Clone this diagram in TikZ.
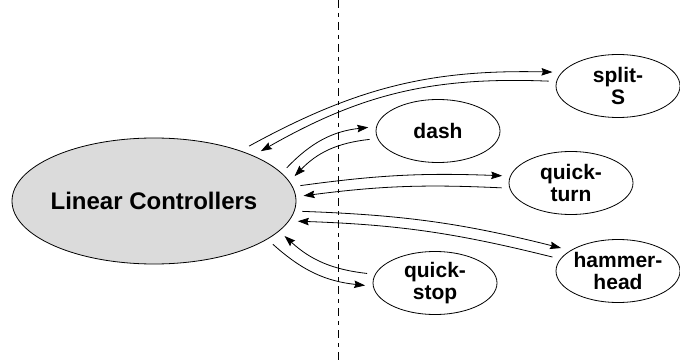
\documentclass[tikz,border=0pt]{standalone}
\usepackage{fontspec}
\setmainfont{Liberation Sans}
\usepackage{tikz}
\usetikzlibrary{shapes,arrows.meta}

\begin{document}
\begin{tikzpicture}[x=1pt,y=1pt,line width=0.8pt,>={Stealth[length=11pt,width=7.5pt,inset=1.5pt]},
		ctrl/.style={ellipse,draw,fill=black!14,minimum width=284pt,minimum height=126pt,inner xsep=-14pt,inner ysep=0pt,outer sep=8pt,font=\fontsize{24}{26}\selectfont\bfseries},
		man/.style={ellipse,draw,minimum width=124pt,minimum height=63pt,inner xsep=-10pt,inner ysep=0pt,outer sep=8pt,align=center,font=\fontsize{21}{22}\selectfont\bfseries}]
			\useasboundingbox (0,0) rectangle (680,362);

			\coordinate (top) at (338,362);
			\coordinate (bot) at (338,0);
			\draw[line width=0.8pt,dash pattern=on 8pt off 5pt on 4pt off 5pt] (top) -- (bot);

			\node[ctrl] (lc) at (154,161) {Linear Controllers};
			\node[man] (splits) at (618,276) {split-\\S};
			\node[man] (dash) at (438,231) {dash};
			\node[man] (qturn) at (571,179) {quick-\\turn};
			\node[man] (hhead) at (618,91) {hammer-\\head};
			\node[man] (qstop) at (435,79) {quick-\\stop};

			\path[->,draw] (lc.30) to[bend left=15] (splits.168);
			\path[->,draw] (splits.176) to[bend right=16] (lc.25);
			\path[->,draw] (lc.14) to[bend left=20] (dash.177);
			\path[->,draw] (dash.187) to[bend right=20] (lc.10);
			\path[->,draw] (lc.6) to[bend left=5] (qturn.174);
			\path[->,draw] (qturn.184) to[bend right=5] (lc.2);
			\path[->,draw] (lc.-4) to[bend left=6] (hhead.158);
			\path[->,draw] (hhead.168) to[bend right=6] (lc.-8);
			\path[->,draw] (lc.-20) to[bend right=18] (qstop.182);
			\path[->,draw] (qstop.172) to[bend left=18] (lc.-15);
		\end{tikzpicture}
\end{document}
